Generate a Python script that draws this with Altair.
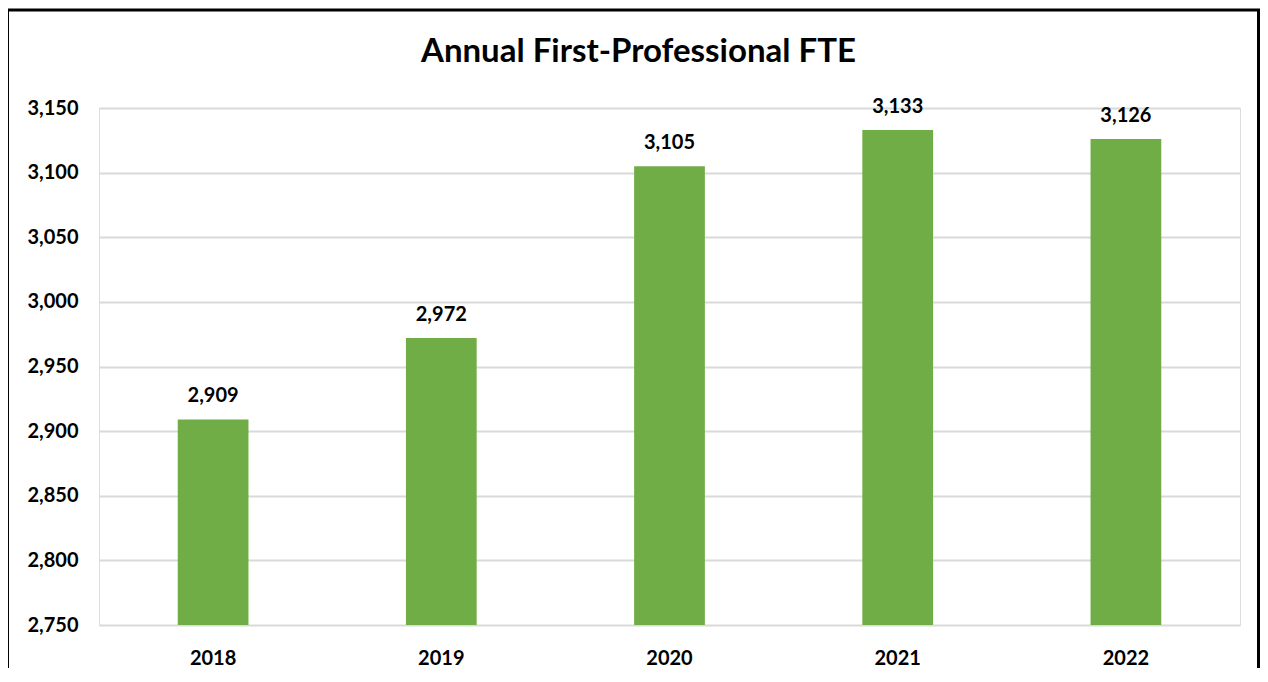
import altair as alt
import pandas as pd

years = ["2018", "2019", "2020", "2021", "2022"]
fte = [2909, 2972, 3105, 3133, 3126]
y_ticks = [2750, 2800, 2850, 2900, 2950, 3000, 3050, 3100, 3150]

df = pd.DataFrame({"year": years, "fte": fte})

FONT = "Lato"
W, H = 1141, 517

x_enc = alt.X("year:N", sort=years, title=None,
              scale=alt.Scale(paddingInner=0.69, paddingOuter=0.345),
              axis=alt.Axis(labelAngle=0, ticks=False, domain=False, labelPadding=23,
                            labelFont=FONT, labelFontSize=20, labelFontWeight="bold",
                            labelColor="#000000"))
y_enc = alt.Y("fte:Q", title=None,
              scale=alt.Scale(domain=[2750, 3150], nice=False, zero=False),
              axis=alt.Axis(values=y_ticks, format=",.0f", ticks=False, domain=False,
                            labelPadding=21, labelFont=FONT, labelFontSize=20,
                            labelFontWeight="bold", labelColor="#000000",
                            grid=True, gridColor="#D9D9D9", gridWidth=2))

base = alt.Chart(df)

bars = base.mark_bar(color="#70AD47", clip=True).encode(x=x_enc, y=y_enc)

labels = base.mark_text(font=FONT, fontSize=20, fontWeight="bold", color="#000000",
                        baseline="alphabetic", dy=-17).encode(
    x=x_enc, y=y_enc,
    text=alt.Text("fte:Q", format=",.0f"),
)

frame = alt.Chart(pd.DataFrame({"k": [0]})).mark_rect(
    fill=None, stroke="#000000", strokeWidth=3, clip=False
).encode(
    x=alt.value(-91.5), x2=alt.value(1159.5),
    y=alt.value(-98), y2=alt.value(620),
)

chart = alt.layer(bars, labels, frame).properties(
    width=W, height=H,
    title=alt.TitleParams("Annual First-Professional FTE", font=FONT, fontSize=33,
                          fontWeight="bold", color="#000000", anchor="middle",
                          baseline="alphabetic", dx=-31, offset=-86),
    padding={"left": 91, "top": 100, "right": 20, "bottom": 43},
    autosize=alt.AutoSizeParams(type="none"),
).configure_view(stroke=None).configure(background="white")

chart.save("out.html", embed_options={"renderer": "svg", "actions": False})
